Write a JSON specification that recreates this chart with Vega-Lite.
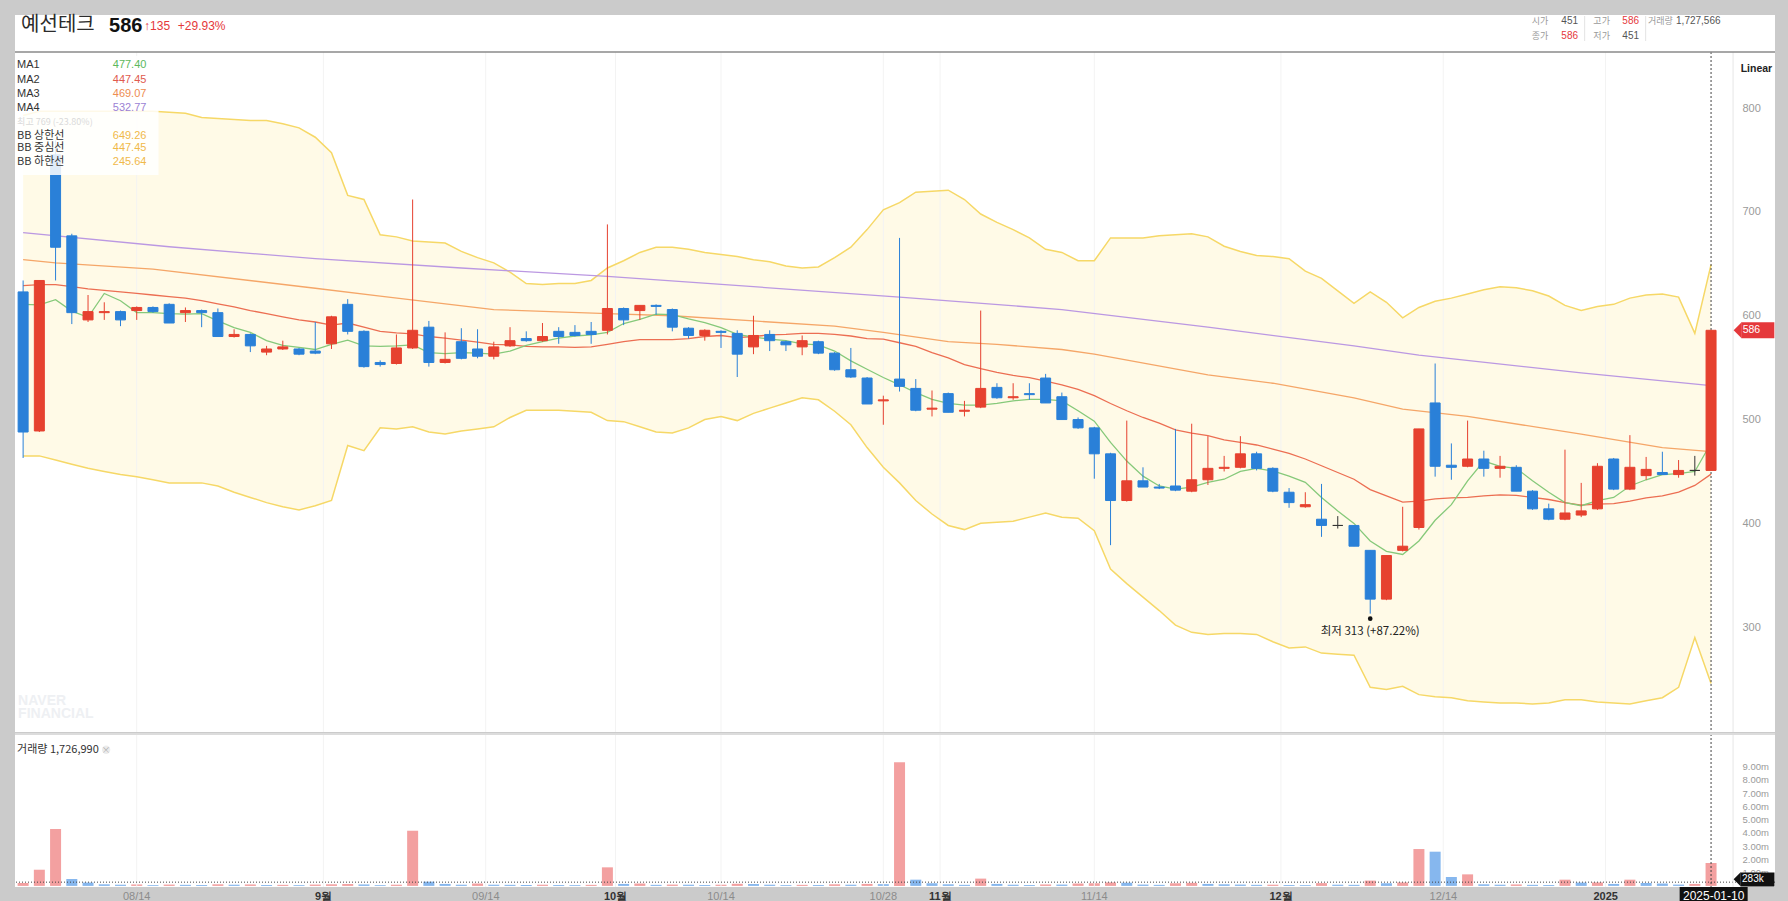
{
"$schema":"https://vega.github.io/schema/vega-lite/v6.json",
"background":"#cbcbcb",
"padding":{"left":14,"top":14,"right":14,"bottom":0},
"spacing":0,
"config":{"view":{"stroke":null,"fill":"#ffffff"},"font":"Noto Sans CJK KR","axis":{"labelFont":"Liberation Sans"}},
"datasets":{"k":[
{"d":"2024-08-05","o":623,"h":634,"l":463,"c":488,"v":220000,"vd":"u","m1":611,"m2":629,"bu":793,"bl":465,"m3":654,"m4":680},
{"d":"2024-08-06","o":489,"h":634,"l":488,"c":634,"v":1220000,"vd":"u","m1":610.5,"m2":630,"bu":797,"bl":465},
{"d":"2024-08-07","o":755,"h":769,"l":634,"c":666,"v":4290000,"vd":"u","m1":615.5,"m2":630,"bu":797,"bl":461,"m3":651},
{"d":"2024-08-08","o":677,"h":679,"l":592,"c":603,"v":520000,"vd":"d","m1":604.5,"m2":628,"bu":797,"bl":457},
{"d":"2024-08-09","o":596,"h":620,"l":594,"c":604,"v":250000,"vd":"d","m1":598.5,"m2":626,"bu":797,"bl":453},
{"d":"2024-08-12","o":603,"h":613,"l":596,"c":604,"v":120000,"vd":"d","m1":621.5,"m2":624.5,"bu":797,"bl":450},
{"d":"2024-08-13","o":604,"h":605,"l":590,"c":596,"v":90000,"vd":"d","m1":614.5,"m2":623,"bu":797,"bl":447},
{"d":"2024-08-14","o":605,"h":609,"l":596,"c":608,"v":110000,"vd":"u","m1":603,"m2":621.5,"bu":797,"bl":445},
{"d":"2024-08-16","o":608,"h":609,"l":603,"c":604,"v":60000,"vd":"d","m1":603,"m2":620,"bu":797,"bl":442,"m3":645},
{"d":"2024-08-19","o":611,"h":612,"l":593,"c":593,"v":100000,"vd":"u","m1":602,"m2":618.5,"bu":796,"bl":439,"m4":666.5},
{"d":"2024-08-20","o":603,"h":608,"l":594,"c":605,"v":80000,"vd":"d","m1":601.5,"m2":617,"bu":795,"bl":439},
{"d":"2024-08-21","o":605,"h":606,"l":589,"c":603,"v":70000,"vd":"d","m1":602,"m2":614.5,"bu":791,"bl":439},
{"d":"2024-08-22","o":603,"h":607,"l":580,"c":580,"v":120000,"vd":"u","m1":595,"m2":611.5,"bu":790,"bl":436},
{"d":"2024-08-23","o":580,"h":587,"l":579,"c":582,"v":90000,"vd":"d","m1":588.5,"m2":608.5,"bu":789,"bl":430},
{"d":"2024-08-26","o":582,"h":583,"l":565,"c":571,"v":110000,"vd":"u","m1":584,"m2":605,"bu":788,"bl":425},
{"d":"2024-08-27","o":565,"h":571,"l":562,"c":568,"v":70000,"vd":"d","m1":576,"m2":602,"bu":788,"bl":420},
{"d":"2024-08-28","o":568,"h":576,"l":567,"c":570,"v":80000,"vd":"u","m1":571.5,"m2":599,"bu":785,"bl":416},
{"d":"2024-08-29","o":568,"h":569,"l":562,"c":563,"v":60000,"vd":"d","m1":569.5,"m2":596,"bu":781,"bl":413},
{"d":"2024-08-30","o":566,"h":594,"l":563,"c":564,"v":100000,"vd":"u","m1":567.5,"m2":594,"bu":772,"bl":417,"m3":626.5,"m4":655},
{"d":"2024-09-02","o":573,"h":600,"l":568,"c":599,"v":120000,"vd":"u","m1":572.5,"m2":591,"bu":757,"bl":422},
{"d":"2024-09-03","o":611,"h":616,"l":582,"c":585,"v":140000,"vd":"u","m1":576.5,"m2":593,"bu":716,"bl":475},
{"d":"2024-09-04","o":585,"h":586,"l":550,"c":551,"v":110000,"vd":"d","m1":571,"m2":589,"bu":712,"bl":470},
{"d":"2024-09-05","o":555,"h":557,"l":551,"c":553,"v":60000,"vd":"d","m1":570.5,"m2":585,"bu":678,"bl":492,"m3":619},
{"d":"2024-09-06","o":554,"h":582,"l":553,"c":569,"v":90000,"vd":"u","m1":571,"m2":583.5,"bu":676,"bl":491},
{"d":"2024-09-09","o":569,"h":712,"l":568,"c":586,"v":4160000,"vd":"u","m1":572,"m2":582.5,"bu":672,"bl":493},
{"d":"2024-09-10","o":589,"h":595,"l":551,"c":555,"v":320000,"vd":"d","m1":564.5,"m2":580,"bu":671,"bl":488},
{"d":"2024-09-11","o":555,"h":584,"l":554,"c":558,"v":150000,"vd":"d","m1":563.5,"m2":578.5,"bu":670,"bl":486},
{"d":"2024-09-12","o":575,"h":588,"l":558,"c":559,"v":90000,"vd":"d","m1":564.5,"m2":576.5,"bu":662,"bl":489,"m4":646},
{"d":"2024-09-13","o":568,"h":587,"l":559,"c":561,"v":180000,"vd":"u","m1":564,"m2":574.5,"bu":656,"bl":491},
{"d":"2024-09-19","o":561,"h":575,"l":558,"c":570,"v":90000,"vd":"d","m1":563,"m2":572.5,"bu":651,"bl":493,"m3":606},
{"d":"2024-09-20","o":571,"h":589,"l":570,"c":576,"v":80000,"vd":"d","m1":566,"m2":572,"bu":642,"bl":502},
{"d":"2024-09-23","o":578,"h":585,"l":575,"c":576,"v":60000,"vd":"d","m1":571.5,"m2":570.5,"bu":631,"bl":509},
{"d":"2024-09-24","o":576,"h":593,"l":575,"c":580,"v":90000,"vd":"u","m1":575,"m2":570,"bu":630,"bl":509},
{"d":"2024-09-25","o":585,"h":589,"l":573,"c":580,"v":70000,"vd":"d","m1":578.5,"m2":570,"bu":631,"bl":509},
{"d":"2024-09-26","o":584,"h":591,"l":580,"c":581,"v":60000,"vd":"d","m1":580.5,"m2":569.5,"bu":631,"bl":508},
{"d":"2024-09-27","o":585,"h":594,"l":573,"c":582,"v":80000,"vd":"u","m1":581.5,"m2":570,"bu":634,"bl":507},
{"d":"2024-09-30","o":586,"h":688,"l":582,"c":607,"v":1400000,"vd":"u","m1":584,"m2":572.5,"bu":646,"bl":499,"m3":602,"m4":638},
{"d":"2024-10-02","o":607,"h":608,"l":591,"c":596,"v":150000,"vd":"d","m1":592.5,"m2":575,"bu":653,"bl":498},
{"d":"2024-10-04","o":605,"h":610,"l":596,"c":610,"v":180000,"vd":"u","m1":596.5,"m2":577,"bu":661,"bl":493},
{"d":"2024-10-07","o":610,"h":611,"l":601,"c":609,"v":80000,"vd":"d","m1":601.5,"m2":577,"bu":666,"bl":488},
{"d":"2024-10-08","o":606,"h":607,"l":585,"c":589,"v":100000,"vd":"u","m1":601,"m2":577,"bu":666,"bl":487,"m3":600},
{"d":"2024-10-10","o":588,"h":589,"l":578,"c":581,"v":90000,"vd":"d","m1":597,"m2":578,"bu":664,"bl":492},
{"d":"2024-10-11","o":581,"h":587,"l":576,"c":586,"v":70000,"vd":"d","m1":593.5,"m2":580,"bu":661,"bl":500},
{"d":"2024-10-14","o":585,"h":586,"l":569,"c":584,"v":90000,"vd":"u","m1":588.5,"m2":581,"bu":659,"bl":503},
{"d":"2024-10-15","o":583,"h":586,"l":541,"c":563,"v":160000,"vd":"u","m1":582,"m2":579,"bu":657,"bl":499},
{"d":"2024-10-16","o":570,"h":600,"l":563,"c":581,"v":140000,"vd":"d","m1":579.5,"m2":580,"bu":654,"bl":506,"m3":595,"m4":628},
{"d":"2024-10-17","o":582,"h":586,"l":566,"c":576,"v":90000,"vd":"d","m1":577.5,"m2":581.5,"bu":652,"bl":511},
{"d":"2024-10-18","o":575,"h":576,"l":566,"c":572,"v":60000,"vd":"d","m1":576,"m2":582,"bu":648,"bl":516},
{"d":"2024-10-21","o":570,"h":581,"l":562,"c":576,"v":80000,"vd":"u","m1":573,"m2":583,"bu":646,"bl":521},
{"d":"2024-10-22","o":575,"h":576,"l":563,"c":564,"v":70000,"vd":"d","m1":572,"m2":583,"bu":647,"bl":519},
{"d":"2024-10-23","o":564,"h":565,"l":547,"c":548,"v":120000,"vd":"u","m1":566,"m2":582,"bu":656,"bl":508,"m3":590},
{"d":"2024-10-24","o":548,"h":569,"l":540,"c":541,"v":90000,"vd":"d","m1":556.5,"m2":580.5,"bu":666,"bl":495},
{"d":"2024-10-25","o":540,"h":541,"l":515,"c":515,"v":150000,"vd":"u","m1":548.5,"m2":578,"bu":683,"bl":473},
{"d":"2024-10-28","o":518,"h":523,"l":495,"c":519,"v":130000,"vd":"d","m1":540.5,"m2":577.5,"bu":702,"bl":454,"m3":584},
{"d":"2024-10-29","o":539,"h":675,"l":527,"c":532,"v":9320000,"vd":"u","m1":533.5,"m2":574,"bu":709,"bl":439,"m4":618},
{"d":"2024-10-30","o":530,"h":539,"l":508,"c":509,"v":470000,"vd":"d","m1":526,"m2":570.5,"bu":719,"bl":422},
{"d":"2024-10-31","o":510,"h":528,"l":503,"c":511,"v":200000,"vd":"d","m1":519.5,"m2":564.5,"bu":720,"bl":409},
{"d":"2024-11-01","o":525,"h":526,"l":507,"c":507,"v":120000,"vd":"d","m1":515.5,"m2":559.5,"bu":721,"bl":398,"m3":575},
{"d":"2024-11-04","o":508,"h":518,"l":503,"c":509,"v":80000,"vd":"d","m1":514,"m2":553,"bu":712,"bl":394},
{"d":"2024-11-05","o":512,"h":605,"l":511,"c":530,"v":550000,"vd":"u","m1":514,"m2":549,"bu":698,"bl":400},
{"d":"2024-11-06","o":531,"h":535,"l":520,"c":521,"v":150000,"vd":"d","m1":515.5,"m2":545.5,"bu":690,"bl":401,"m3":572.5},
{"d":"2024-11-07","o":521,"h":535,"l":519,"c":522,"v":90000,"vd":"d","m1":518,"m2":542.5,"bu":683,"bl":402},
{"d":"2024-11-08","o":525,"h":535,"l":519,"c":524,"v":70000,"vd":"d","m1":519.5,"m2":540.5,"bu":675,"bl":406},
{"d":"2024-11-11","o":540,"h":544,"l":516,"c":516,"v":110000,"vd":"u","m1":519.5,"m2":537,"bu":664,"bl":410},
{"d":"2024-11-12","o":522,"h":526,"l":500,"c":500,"v":100000,"vd":"d","m1":518,"m2":533.5,"bu":661,"bl":406,"m3":567.5,"m4":606},
{"d":"2024-11-13","o":500,"h":502,"l":491,"c":492,"v":180000,"vd":"u","m1":508.5,"m2":529,"bu":653,"bl":405},
{"d":"2024-11-14","o":492,"h":493,"l":443,"c":467,"v":200000,"vd":"u","m1":498.5,"m2":523,"bu":653,"bl":393,"m3":563},
{"d":"2024-11-15","o":467,"h":468,"l":379,"c":422,"v":260000,"vd":"u","m1":478,"m2":515.5,"bu":675,"bl":356},
{"d":"2024-11-18","o":422,"h":499,"l":421,"c":441,"v":240000,"vd":"d","m1":460,"m2":508.5,"bu":675,"bl":342},
{"d":"2024-11-19","o":441,"h":454,"l":435,"c":435,"v":100000,"vd":"d","m1":445.5,"m2":502,"bu":675,"bl":329},
{"d":"2024-11-20","o":435,"h":438,"l":433,"c":434,"v":80000,"vd":"d","m1":436,"m2":496.5,"bu":677,"bl":316},
{"d":"2024-11-21","o":436,"h":491,"l":431,"c":432,"v":200000,"vd":"u","m1":433,"m2":490,"bu":678,"bl":302},
{"d":"2024-11-22","o":431,"h":496,"l":430,"c":442,"v":230000,"vd":"u","m1":435,"m2":487,"bu":679,"bl":295},
{"d":"2024-11-25","o":442,"h":484,"l":437,"c":453,"v":150000,"vd":"d","m1":439.5,"m2":484.5,"bu":676,"bl":293,"m3":543,"m4":589},
{"d":"2024-11-26","o":453,"h":465,"l":450,"c":454,"v":120000,"vd":"d","m1":442.5,"m2":480.5,"bu":667,"bl":294},
{"d":"2024-11-27","o":454,"h":484,"l":453,"c":467,"v":100000,"vd":"d","m1":450,"m2":478,"bu":662,"bl":294},
{"d":"2024-11-28","o":467,"h":469,"l":451,"c":453,"v":80000,"vd":"d","m1":453,"m2":475.5,"bu":658,"bl":293},
{"d":"2024-11-29","o":453,"h":454,"l":430,"c":431,"v":90000,"vd":"u","m1":450.5,"m2":471.5,"bu":657,"bl":286,"m3":535},
{"d":"2024-12-02","o":430,"h":434,"l":415,"c":420,"v":70000,"vd":"d","m1":445.5,"m2":467.5,"bu":655,"bl":280},
{"d":"2024-12-03","o":416,"h":430,"l":415,"c":418,"v":60000,"vd":"d","m1":439.5,"m2":462,"bu":643,"bl":281},
{"d":"2024-12-04","o":404,"h":438,"l":387,"c":398,"v":210000,"vd":"u","m1":425,"m2":455.5,"bu":636,"bl":275},
{"d":"2024-12-05","o":398,"h":407,"l":395,"c":398,"v":90000,"vd":"d","m1":412,"m2":449,"bu":624,"bl":274},
{"d":"2024-12-06","o":398,"h":398,"l":378,"c":378,"v":80000,"vd":"d","m1":400,"m2":442.5,"bu":612,"bl":273,"m3":521,"m4":571},
{"d":"2024-12-09","o":374,"h":374,"l":313,"c":327,"v":400000,"vd":"u","m1":383,"m2":432.5,"bu":623,"bl":242},
{"d":"2024-12-10","o":327,"h":369,"l":326,"c":369,"v":200000,"vd":"d","m1":373,"m2":426.5,"bu":613,"bl":240},
{"d":"2024-12-11","o":374,"h":416,"l":373,"c":378,"v":260000,"vd":"u","m1":370,"m2":420.5,"bu":598,"bl":243,"m3":510},
{"d":"2024-12-12","o":396,"h":491,"l":394,"c":491,"v":2780000,"vd":"u","m1":383,"m2":421.5,"bu":608,"bl":235,"m4":562},
{"d":"2024-12-13","o":516,"h":554,"l":445,"c":455,"v":2580000,"vd":"d","m1":403,"m2":423.5,"bu":614,"bl":233},
{"d":"2024-12-16","o":456,"h":477,"l":442,"c":454,"v":670000,"vd":"d","m1":418,"m2":424.5,"bu":617,"bl":232},
{"d":"2024-12-17","o":455,"h":499,"l":454,"c":462,"v":870000,"vd":"u","m1":441,"m2":425,"bu":621,"bl":229,"m3":503},
{"d":"2024-12-18","o":462,"h":470,"l":445,"c":453,"v":120000,"vd":"d","m1":460,"m2":426.5,"bu":625,"bl":228},
{"d":"2024-12-19","o":453,"h":465,"l":444,"c":455,"v":90000,"vd":"d","m1":455,"m2":427.5,"bu":628,"bl":227},
{"d":"2024-12-20","o":454,"h":456,"l":431,"c":431,"v":110000,"vd":"u","m1":453,"m2":427,"bu":627,"bl":227},
{"d":"2024-12-23","o":431,"h":432,"l":413,"c":414,"v":80000,"vd":"d","m1":441,"m2":425,"bu":624,"bl":226},
{"d":"2024-12-24","o":414,"h":419,"l":403,"c":404,"v":70000,"vd":"d","m1":430,"m2":423,"bu":619,"bl":227},
{"d":"2024-12-26","o":404,"h":471,"l":403,"c":410,"v":470000,"vd":"u","m1":420,"m2":420,"bu":610,"bl":230},
{"d":"2024-12-27","o":408,"h":439,"l":406,"c":412,"v":250000,"vd":"d","m1":417,"m2":417.5,"bu":605,"bl":230,"m3":486,"m4":545},
{"d":"2024-12-30","o":414,"h":458,"l":413,"c":455,"v":260000,"vd":"u","m1":422,"m2":418.5,"bu":609,"bl":228},
{"d":"2025-01-02","o":462,"h":463,"l":432,"c":433,"v":150000,"vd":"d","m1":425,"m2":419,"bu":611,"bl":227},
{"d":"2025-01-03","o":433,"h":485,"l":432,"c":454,"v":470000,"vd":"u","m1":436,"m2":421.5,"bu":617,"bl":226},
{"d":"2025-01-06","o":446,"h":464,"l":442,"c":452,"v":220000,"vd":"d","m1":442,"m2":424.5,"bu":620,"bl":229},
{"d":"2025-01-07","o":449,"h":469,"l":447,"c":447,"v":180000,"vd":"d","m1":447,"m2":426.5,"bu":621,"bl":232,"m3":473},
{"d":"2025-01-08","o":447,"h":461,"l":444,"c":451,"v":100000,"vd":"d","m1":448,"m2":430,"bu":618,"bl":242},
{"d":"2025-01-09","o":451,"h":465,"l":446,"c":451,"v":150000,"vd":"u","m1":450,"m2":436.5,"bu":583,"bl":290},
{"d":"2025-01-10","o":451,"h":586,"l":451,"c":586,"v":1727566,"vd":"u","m1":477.4,"m2":447.45,"bu":649.26,"bl":245.64,"m3":469.07,"m4":532.77}
],
"pad":[{"d":"2025-01-13"},{"d":"2025-01-14"}]
},
"vconcat":[
{
"width":1760,"height":717,
"layer":[
{"data":{"name":"k"},"mark":{"type":"area","color":"#ffeeb0","opacity":0.3},
 "encoding":{"x":{"field":"d","type":"ordinal","scale":{"type":"band","paddingInner":0,"paddingOuter":0.72,"align":0},"axis":null},
  "y":{"field":"bl","type":"quantitative","scale":{"domain":[199,889.75],"nice":false,"zero":false},
   "axis":{"orient":"right","offset":-41,"values":[300,400,500,600,700,800],"tickCount":20,"labelAlign":"left","labelPadding":8,"ticks":false,"domain":false,"grid":false,"labelColor":"#9a9a9a","labelFontSize":11,"title":null}},
  "y2":{"field":"bu"}}},
{"data":{"name":"pad"},"mark":{"type":"rule","opacity":0},
 "encoding":{"x":{"field":"d","type":"ordinal","axis":null},"y":{"datum":854.1,"type":"quantitative","axis":{"title":null}},"y2":{"datum":199}}},
{"data":{"values":[{"d":"2024-08-14"},{"d":"2024-10-14"},{"d":"2024-10-28"},{"d":"2024-11-14"}]},"mark":{"type":"rule","color":"#f3f3f3","strokeWidth":1},
 "encoding":{"x":{"field":"d","type":"ordinal","axis":null},"y":{"datum":854.1,"type":"quantitative","axis":{"title":null}},"y2":{"datum":199}}},
{"data":{"values":[{"d":"2024-09-02"},{"d":"2024-09-19"},{"d":"2024-10-02"},{"d":"2024-11-01"},{"d":"2024-12-02"},{"d":"2024-12-16"},{"d":"2025-01-02"}]},"mark":{"type":"rule","color":"#f3f3f3","strokeWidth":1},
 "encoding":{"x":{"field":"d","type":"ordinal","bandPosition":0,"axis":null},"y":{"datum":854.1,"type":"quantitative","axis":{"title":null}},"y2":{"datum":199}}},
{"data":{"name":"k"},"mark":{"type":"line","color":"#f6d867","strokeWidth":1.5},"encoding":{"x":{"field":"d","type":"ordinal","axis":null},"y":{"field":"bu","type":"quantitative","axis":{"title":null}}}},
{"data":{"name":"k"},"mark":{"type":"line","color":"#f6d867","strokeWidth":1.5},"encoding":{"x":{"field":"d","type":"ordinal","axis":null},"y":{"field":"bl","type":"quantitative","axis":{"title":null}}}},
{"data":{"name":"k"},"mark":{"type":"line","color":"#bb98e2","strokeWidth":1.3,"invalid":"filter"},"encoding":{"x":{"field":"d","type":"ordinal","axis":null},"y":{"field":"m4","type":"quantitative","axis":{"title":null}}}},
{"data":{"name":"k"},"mark":{"type":"line","color":"#f5a668","strokeWidth":1.3,"invalid":"filter"},"encoding":{"x":{"field":"d","type":"ordinal","axis":null},"y":{"field":"m3","type":"quantitative","axis":{"title":null}}}},
{"data":{"name":"k"},"mark":{"type":"line","color":"#ec6e52","strokeWidth":1.3},"encoding":{"x":{"field":"d","type":"ordinal","axis":null},"y":{"field":"m2","type":"quantitative","axis":{"title":null}}}},
{"data":{"name":"k"},"mark":{"type":"line","color":"#86c97a","strokeWidth":1.3},"encoding":{"x":{"field":"d","type":"ordinal","axis":null},"y":{"field":"m1","type":"quantitative","axis":{"title":null}}}},
{"data":{"values":[{}]},"mark":{"type":"rule","color":"#444444","strokeWidth":1,"strokeDash":[2,2]},
 "encoding":{"x":{"datum":"2025-01-10","type":"ordinal","axis":null},"y":{"datum":854.1,"type":"quantitative","axis":{"title":null}},"y2":{"datum":199}}},
{"data":{"values":[{}]},"mark":{"type":"rule","color":"#e6e6e6","strokeWidth":1,"xOffset":22},
 "encoding":{"x":{"datum":"2025-01-10","type":"ordinal","axis":null},"y":{"datum":854.1,"type":"quantitative","axis":{"title":null}},"y2":{"datum":199}}},
{"data":{"name":"k"},"mark":{"type":"rule","strokeWidth":1},
 "encoding":{"x":{"field":"d","type":"ordinal","axis":null},"y":{"field":"l","type":"quantitative","axis":{"title":null}},"y2":{"field":"h"},
  "color":{"condition":[{"test":"datum.c > datum.o","value":"#e6412f"},{"test":"datum.c < datum.o","value":"#2a80d8"}],"value":"#333333"}}},
{"data":{"name":"k"},"mark":{"type":"bar","size":10,"strokeWidth":1},
 "encoding":{"x":{"field":"d","type":"ordinal","axis":null},"y":{"field":"o","type":"quantitative","axis":{"title":null}},"y2":{"field":"c"},
  "color":{"condition":[{"test":"datum.c > datum.o","value":"#e6412f"},{"test":"datum.c < datum.o","value":"#2a80d8"}],"value":"#333333"},
  "stroke":{"condition":[{"test":"datum.c > datum.o","value":"#e6412f"},{"test":"datum.c < datum.o","value":"#2a80d8"}],"value":"#333333"}}},
{"data":{"values":[{}]},"mark":{"type":"bar","size":141,"color":"#ffffff","opacity":0.85},
 "encoding":{"x":{"datum":"2024-08-09","type":"ordinal","axis":null},"y":{"datum":850.3,"type":"quantitative","axis":{"title":null}},"y2":{"datum":735.6}}},
{"data":{"values":[{}]},"mark":{"type":"rule","color":"#8a8a8a","strokeWidth":1.5},"encoding":{"y":{"datum":854.1,"type":"quantitative","axis":{"title":null}}}},
{"data":{"values":[{}]},"mark":{"type":"text","text":"예선테크","align":"left","baseline":"middle","fontSize":20,"color":"#2b2b2b","xOffset":-2},
 "encoding":{"x":{"datum":"2024-08-05","type":"ordinal","axis":null},"y":{"datum":880.4,"type":"quantitative","axis":{"title":null}}}},
{"data":{"values":[{}]},"mark":{"type":"text","text":"586","align":"left","baseline":"middle","fontSize":20,"fontWeight":"bold","font":"Liberation Sans","color":"#111111","xOffset":86},
 "encoding":{"x":{"datum":"2024-08-05","type":"ordinal","axis":null},"y":{"datum":879.6,"type":"quantitative","axis":{"title":null}}}},
{"data":{"values":[{}]},"mark":{"type":"text","text":"↑135","align":"left","baseline":"middle","fontSize":12,"font":"Liberation Sans","color":"#e5383b","xOffset":121},
 "encoding":{"x":{"datum":"2024-08-05","type":"ordinal","axis":null},"y":{"datum":879.2,"type":"quantitative","axis":{"title":null}}}},
{"data":{"values":[{}]},"mark":{"type":"text","text":"+29.93%","align":"left","baseline":"middle","fontSize":12,"font":"Liberation Sans","color":"#e5383b","xOffset":154.7},
 "encoding":{"x":{"datum":"2024-08-05","type":"ordinal","axis":null},"y":{"datum":879.2,"type":"quantitative","axis":{"title":null}}}},
{"data":{"values":[{}]},"mark":{"type":"text","text":"시가","align":"left","baseline":"middle","fontSize":9,"color":"#9a9a9a","xOffset":-179.4},
 "encoding":{"x":{"datum":"2025-01-10","type":"ordinal","axis":null},"y":{"datum":883.9,"type":"quantitative","axis":{"title":null}}}},
{"data":{"values":[{}]},"mark":{"type":"text","text":"451","align":"left","baseline":"middle","fontSize":10,"font":"Liberation Sans","color":"#555555","xOffset":-149.7},
 "encoding":{"x":{"datum":"2025-01-10","type":"ordinal","axis":null},"y":{"datum":883.9,"type":"quantitative","axis":{"title":null}}}},
{"data":{"values":[{}]},"mark":{"type":"text","text":"고가","align":"left","baseline":"middle","fontSize":9,"color":"#9a9a9a","xOffset":-117.7},
 "encoding":{"x":{"datum":"2025-01-10","type":"ordinal","axis":null},"y":{"datum":883.9,"type":"quantitative","axis":{"title":null}}}},
{"data":{"values":[{}]},"mark":{"type":"text","text":"586","align":"left","baseline":"middle","fontSize":10,"font":"Liberation Sans","color":"#e5383b","xOffset":-88.7},
 "encoding":{"x":{"datum":"2025-01-10","type":"ordinal","axis":null},"y":{"datum":883.9,"type":"quantitative","axis":{"title":null}}}},
{"data":{"values":[{}]},"mark":{"type":"text","text":"거래량","align":"left","baseline":"middle","fontSize":9,"color":"#9a9a9a","xOffset":-63},
 "encoding":{"x":{"datum":"2025-01-10","type":"ordinal","axis":null},"y":{"datum":883.9,"type":"quantitative","axis":{"title":null}}}},
{"data":{"values":[{}]},"mark":{"type":"text","text":"1,727,566","align":"left","baseline":"middle","fontSize":10,"font":"Liberation Sans","color":"#555555","xOffset":-35},
 "encoding":{"x":{"datum":"2025-01-10","type":"ordinal","axis":null},"y":{"datum":883.9,"type":"quantitative","axis":{"title":null}}}},
{"data":{"values":[{}]},"mark":{"type":"text","text":"종가","align":"left","baseline":"middle","fontSize":9,"color":"#9a9a9a","xOffset":-179.4},
 "encoding":{"x":{"datum":"2025-01-10","type":"ordinal","axis":null},"y":{"datum":869.7,"type":"quantitative","axis":{"title":null}}}},
{"data":{"values":[{}]},"mark":{"type":"text","text":"586","align":"left","baseline":"middle","fontSize":10,"font":"Liberation Sans","color":"#e5383b","xOffset":-149.7},
 "encoding":{"x":{"datum":"2025-01-10","type":"ordinal","axis":null},"y":{"datum":869.7,"type":"quantitative","axis":{"title":null}}}},
{"data":{"values":[{}]},"mark":{"type":"text","text":"저가","align":"left","baseline":"middle","fontSize":9,"color":"#9a9a9a","xOffset":-117.7},
 "encoding":{"x":{"datum":"2025-01-10","type":"ordinal","axis":null},"y":{"datum":869.7,"type":"quantitative","axis":{"title":null}}}},
{"data":{"values":[{}]},"mark":{"type":"text","text":"451","align":"left","baseline":"middle","fontSize":10,"font":"Liberation Sans","color":"#555555","xOffset":-88.7},
 "encoding":{"x":{"datum":"2025-01-10","type":"ordinal","axis":null},"y":{"datum":869.7,"type":"quantitative","axis":{"title":null}}}},
{"data":{"values":[{}]},"mark":{"type":"rule","color":"#e3e3e3","xOffset":-126.4},
 "encoding":{"x":{"datum":"2025-01-10","type":"ordinal","axis":null},"y":{"datum":888.8,"type":"quantitative","axis":{"title":null}},"y2":{"datum":864.7}}},
{"data":{"values":[{}]},"mark":{"type":"rule","color":"#e3e3e3","xOffset":-65.4},
 "encoding":{"x":{"datum":"2025-01-10","type":"ordinal","axis":null},"y":{"datum":888.8,"type":"quantitative","axis":{"title":null}},"y2":{"datum":864.7}}},
{"data":{"values":[{}]},"mark":{"type":"text","text":"Linear","align":"left","baseline":"middle","fontSize":10.5,"font":"Liberation Sans","fontWeight":"bold","color":"#222222","xOffset":29.6},
 "encoding":{"x":{"datum":"2025-01-10","type":"ordinal","axis":null},"y":{"datum":837.6,"type":"quantitative","axis":{"title":null}}}},
{"data":{"values":[{}]},"mark":{"type":"text","text":"MA1","align":"left","baseline":"middle","fontSize":11,"font":"Liberation Sans","color":"#333333","xOffset":-6},
 "encoding":{"x":{"datum":"2024-08-05","type":"ordinal","axis":null},"y":{"datum":841.6,"type":"quantitative","axis":{"title":null}}}},
{"data":{"values":[{}]},"mark":{"type":"text","text":"MA2","align":"left","baseline":"middle","fontSize":11,"font":"Liberation Sans","color":"#333333","xOffset":-6},
 "encoding":{"x":{"datum":"2024-08-05","type":"ordinal","axis":null},"y":{"datum":827.4,"type":"quantitative","axis":{"title":null}}}},
{"data":{"values":[{}]},"mark":{"type":"text","text":"MA3","align":"left","baseline":"middle","fontSize":11,"font":"Liberation Sans","color":"#333333","xOffset":-6},
 "encoding":{"x":{"datum":"2024-08-05","type":"ordinal","axis":null},"y":{"datum":813.9,"type":"quantitative","axis":{"title":null}}}},
{"data":{"values":[{}]},"mark":{"type":"text","text":"MA4","align":"left","baseline":"middle","fontSize":11,"font":"Liberation Sans","color":"#333333","xOffset":-6},
 "encoding":{"x":{"datum":"2024-08-05","type":"ordinal","axis":null},"y":{"datum":800.4,"type":"quantitative","axis":{"title":null}}}},
{"data":{"values":[{}]},"mark":{"type":"text","text":"최고 769 (-23.80%)","align":"left","baseline":"middle","fontSize":9,"color":"#dadada","xOffset":-6},
 "encoding":{"x":{"datum":"2024-08-05","type":"ordinal","axis":null},"y":{"datum":787,"type":"quantitative","axis":{"title":null}}}},
{"data":{"values":[{}]},"mark":{"type":"text","text":"BB 상한선","align":"left","baseline":"middle","fontSize":11,"color":"#333333","xOffset":-6},
 "encoding":{"x":{"datum":"2024-08-05","type":"ordinal","axis":null},"y":{"datum":773.2,"type":"quantitative","axis":{"title":null}}}},
{"data":{"values":[{}]},"mark":{"type":"text","text":"BB 중심선","align":"left","baseline":"middle","fontSize":11,"color":"#333333","xOffset":-6},
 "encoding":{"x":{"datum":"2024-08-05","type":"ordinal","axis":null},"y":{"datum":761.9,"type":"quantitative","axis":{"title":null}}}},
{"data":{"values":[{}]},"mark":{"type":"text","text":"BB 하한선","align":"left","baseline":"middle","fontSize":11,"color":"#333333","xOffset":-6},
 "encoding":{"x":{"datum":"2024-08-05","type":"ordinal","axis":null},"y":{"datum":748.1,"type":"quantitative","axis":{"title":null}}}},
{"data":{"values":[{}]},"mark":{"type":"text","text":"477.40","align":"right","baseline":"middle","fontSize":11,"font":"Liberation Sans","color":"#5cb85c","xOffset":123.3},
 "encoding":{"x":{"datum":"2024-08-05","type":"ordinal","axis":null},"y":{"datum":841.6,"type":"quantitative","axis":{"title":null}}}},
{"data":{"values":[{}]},"mark":{"type":"text","text":"447.45","align":"right","baseline":"middle","fontSize":11,"font":"Liberation Sans","color":"#e05a4e","xOffset":123.3},
 "encoding":{"x":{"datum":"2024-08-05","type":"ordinal","axis":null},"y":{"datum":827.4,"type":"quantitative","axis":{"title":null}}}},
{"data":{"values":[{}]},"mark":{"type":"text","text":"469.07","align":"right","baseline":"middle","fontSize":11,"font":"Liberation Sans","color":"#ee8c50","xOffset":123.3},
 "encoding":{"x":{"datum":"2024-08-05","type":"ordinal","axis":null},"y":{"datum":813.9,"type":"quantitative","axis":{"title":null}}}},
{"data":{"values":[{}]},"mark":{"type":"text","text":"532.77","align":"right","baseline":"middle","fontSize":11,"font":"Liberation Sans","color":"#9b7fd4","xOffset":123.3},
 "encoding":{"x":{"datum":"2024-08-05","type":"ordinal","axis":null},"y":{"datum":800.4,"type":"quantitative","axis":{"title":null}}}},
{"data":{"values":[{}]},"mark":{"type":"text","text":"649.26","align":"right","baseline":"middle","fontSize":11,"font":"Liberation Sans","color":"#f0b94a","xOffset":123.3},
 "encoding":{"x":{"datum":"2024-08-05","type":"ordinal","axis":null},"y":{"datum":773.2,"type":"quantitative","axis":{"title":null}}}},
{"data":{"values":[{}]},"mark":{"type":"text","text":"447.45","align":"right","baseline":"middle","fontSize":11,"font":"Liberation Sans","color":"#f0b94a","xOffset":123.3},
 "encoding":{"x":{"datum":"2024-08-05","type":"ordinal","axis":null},"y":{"datum":761.9,"type":"quantitative","axis":{"title":null}}}},
{"data":{"values":[{}]},"mark":{"type":"text","text":"245.64","align":"right","baseline":"middle","fontSize":11,"font":"Liberation Sans","color":"#f0b94a","xOffset":123.3},
 "encoding":{"x":{"datum":"2024-08-05","type":"ordinal","axis":null},"y":{"datum":748.1,"type":"quantitative","axis":{"title":null}}}},
{"data":{"values":[{}]},"mark":{"type":"point","shape":"circle","filled":true,"size":22,"color":"#111111","opacity":1,"yOffset":5},
 "encoding":{"x":{"datum":"2024-12-09","type":"ordinal","axis":null},"y":{"datum":313,"type":"quantitative","axis":{"title":null}}}},
{"data":{"values":[{}]},"mark":{"type":"text","text":"최저 313 (+87.22%)","align":"center","baseline":"middle","fontSize":11.5,"color":"#222222","yOffset":18},
 "encoding":{"x":{"datum":"2024-12-09","type":"ordinal","axis":null},"y":{"datum":313,"type":"quantitative","axis":{"title":null}}}},
{"data":{"values":[{}]},"mark":{"type":"text","text":"NAVER","align":"left","baseline":"middle","fontSize":14,"font":"Liberation Sans","fontWeight":"bold","color":"#eef0f3","xOffset":-5},
 "encoding":{"x":{"datum":"2024-08-05","type":"ordinal","axis":null},"y":{"datum":228.9,"type":"quantitative","axis":{"title":null}}}},
{"data":{"values":[{}]},"mark":{"type":"text","text":"FINANCIAL","align":"left","baseline":"middle","fontSize":14,"font":"Liberation Sans","fontWeight":"bold","color":"#eef0f3","xOffset":-5},
 "encoding":{"x":{"datum":"2024-08-05","type":"ordinal","axis":null},"y":{"datum":216.3,"type":"quantitative","axis":{"title":null}}}},
{"data":{"values":[{}]},"mark":{"type":"point","shape":"M0,-1L-1,0L0,1Z","filled":true,"size":256,"color":"#e5383b","opacity":1,"xOffset":30.6},
 "encoding":{"x":{"datum":"2025-01-10","type":"ordinal","axis":null},"y":{"datum":586,"type":"quantitative","axis":{"title":null}}}},
{"data":{"values":[{}]},"mark":{"type":"bar","size":33,"color":"#e5383b","xOffset":46.8},
 "encoding":{"x":{"datum":"2025-01-10","type":"ordinal","axis":null},"y":{"datum":578.3,"type":"quantitative","axis":{"title":null}},"y2":{"datum":593.7}}},
{"data":{"values":[{}]},"mark":{"type":"text","text":"586","align":"left","baseline":"middle","fontSize":10.5,"font":"Liberation Sans","color":"#ffffff","xOffset":31.6},
 "encoding":{"x":{"datum":"2025-01-10","type":"ordinal","axis":null},"y":{"datum":586,"type":"quantitative","axis":{"title":null}}}}
]
},
{
"width":1760,"height":153,
"layer":[
{"data":{"name":"k"},"mark":{"type":"bar","size":11},
 "encoding":{"x":{"field":"d","type":"ordinal","scale":{"type":"band","paddingInner":0,"paddingOuter":0.72,"align":0},
   "axis":{"title":null,"orient":"bottom","domain":false,"ticks":false,"grid":false,"labelPadding":3,"labelFontSize":11,"labelOverlap":false,"labelBound":false,"labelFlush":false,"labelAngle":0,
    "labelExpr":"datum.value=='2024-08-14'?'08/14':datum.value=='2024-09-02'?'9월':datum.value=='2024-09-19'?'09/14':datum.value=='2024-10-02'?'10월':datum.value=='2024-10-14'?'10/14':datum.value=='2024-10-28'?'10/28':datum.value=='2024-11-01'?'11월':datum.value=='2024-11-14'?'11/14':datum.value=='2024-12-02'?'12월':datum.value=='2024-12-16'?'12/14':datum.value=='2025-01-02'?'2025':''",
    "labelColor":{"condition":{"test":"indexof(['2024-09-02','2024-10-02','2024-11-01','2024-12-02','2025-01-02'], datum.value) >= 0","value":"#333333"},"value":"#8c8c8c"},
    "labelFontWeight":{"condition":{"test":"indexof(['2024-09-02','2024-10-02','2024-11-01','2024-12-02','2025-01-02'], datum.value) >= 0","value":"bold"},"value":"normal"},
    "labelOffset":{"condition":{"test":"indexof(['2024-09-02','2024-09-19','2024-10-02','2024-11-01','2024-12-02','2024-12-16','2025-01-02'], datum.value) >= 0","value":-8},"value":0}}},
  "y":{"field":"v","type":"quantitative","scale":{"domain":[-83000,11455000],"nice":false,"zero":false},
   "axis":{"orient":"right","offset":-41,"values":[1000000,2000000,3000000,4000000,5000000,6000000,7000000,8000000,9000000],"tickCount":20,"labelExpr":"format(datum.value/1000000,'.2f')+'m'","labelAlign":"left","labelBaseline":"middle","labelPadding":8,"labelOverlap":false,"labelBound":false,"ticks":false,"domain":false,"grid":false,"labelColor":"#9a9a9a","labelFontSize":9.5,"title":null}},
  "y2":{"datum":0},
  "color":{"condition":{"test":"datum.vd == 'u'","value":"#f3a0a0"},"value":"#86b7ee"}}},
{"data":{"name":"pad"},"mark":{"type":"rule","opacity":0},"encoding":{"x":{"field":"d","type":"ordinal","axis":{"title":null}}}},
{"data":{"values":[{"d":"2024-08-14"},{"d":"2024-10-14"},{"d":"2024-10-28"},{"d":"2024-11-14"}]},"mark":{"type":"rule","color":"#f3f3f3","strokeWidth":1},
 "encoding":{"x":{"field":"d","type":"ordinal","axis":{"title":null}}}},
{"data":{"values":[{"d":"2024-09-02"},{"d":"2024-09-19"},{"d":"2024-10-02"},{"d":"2024-11-01"},{"d":"2024-12-02"},{"d":"2024-12-16"},{"d":"2025-01-02"}]},"mark":{"type":"rule","color":"#f3f3f3","strokeWidth":1},
 "encoding":{"x":{"field":"d","type":"ordinal","bandPosition":0,"axis":{"title":null}}}},
{"data":{"values":[{}]},"mark":{"type":"rule","color":"#444444","strokeWidth":1,"strokeDash":[1,2]},"encoding":{"y":{"datum":283000,"type":"quantitative","axis":{"title":null}}}},
{"data":{"values":[{}]},"mark":{"type":"rule","color":"#444444","strokeWidth":1,"strokeDash":[2,2]},"encoding":{"x":{"datum":"2025-01-10","type":"ordinal","axis":{"title":null}}}},
{"data":{"values":[{}]},"mark":{"type":"rule","color":"#e6e6e6","strokeWidth":1,"xOffset":22},"encoding":{"x":{"datum":"2025-01-10","type":"ordinal","axis":{"title":null}}}},
{"data":{"values":[{}]},"mark":{"type":"rule","color":"#dcdcdc","strokeWidth":2},"encoding":{"y":{"datum":11455000,"type":"quantitative","axis":{"title":null}}}},
{"data":{"values":[{}]},"mark":{"type":"text","text":"거래량 1,726,990","align":"left","baseline":"middle","fontSize":11,"color":"#333333","xOffset":-6},
 "encoding":{"x":{"datum":"2024-08-05","type":"ordinal","axis":{"title":null}},"y":{"datum":10271000,"type":"quantitative","axis":{"title":null}}}},
{"data":{"values":[{}]},"mark":{"type":"point","shape":"circle","filled":true,"size":70,"color":"#ececec","opacity":1,"xOffset":83},
 "encoding":{"x":{"datum":"2024-08-05","type":"ordinal","axis":{"title":null}},"y":{"datum":10271000,"type":"quantitative","axis":{"title":null}}}},
{"data":{"values":[{}]},"mark":{"type":"text","text":"×","align":"center","baseline":"middle","fontSize":9,"color":"#b0b0b0","xOffset":83},
 "encoding":{"x":{"datum":"2024-08-05","type":"ordinal","axis":{"title":null}},"y":{"datum":10271000,"type":"quantitative","axis":{"title":null}}}},
{"data":{"values":[{}]},"mark":{"type":"point","shape":"M0,-1L-1,0L0,1Z","filled":true,"size":196,"color":"#111111","opacity":1,"xOffset":29.6,"yOffset":-3},
 "encoding":{"x":{"datum":"2025-01-10","type":"ordinal","axis":{"title":null}},"y":{"datum":283000,"type":"quantitative","axis":{"title":null}}}},
{"data":{"values":[{}]},"mark":{"type":"bar","size":34,"color":"#111111","xOffset":46.4},
 "encoding":{"x":{"datum":"2025-01-10","type":"ordinal","axis":{"title":null}},"y":{"datum":-40000,"type":"quantitative","axis":{"title":null}},"y2":{"datum":1010000}}},
{"data":{"values":[{}]},"mark":{"type":"text","text":"283k","align":"left","baseline":"middle","fontSize":10,"font":"Liberation Sans","color":"#ffffff","xOffset":31},
 "encoding":{"x":{"datum":"2025-01-10","type":"ordinal","axis":{"title":null}},"y":{"datum":500000,"type":"quantitative","axis":{"title":null}}}},
{"data":{"values":[{}]},"mark":{"type":"bar","size":68,"color":"#111111","xOffset":2.6},
 "encoding":{"x":{"datum":"2025-01-10","type":"ordinal","axis":{"title":null}},"y":{"datum":-83000,"type":"quantitative","axis":{"title":null}},"y2":{"datum":-1365000}}},
{"data":{"values":[{}]},"mark":{"type":"text","text":"2025-01-10","align":"center","baseline":"middle","fontSize":12,"font":"Liberation Sans","color":"#ffffff","xOffset":2.6},
 "encoding":{"x":{"datum":"2025-01-10","type":"ordinal","axis":{"title":null}},"y":{"datum":-724000,"type":"quantitative","axis":{"title":null}}}}
]
}
]
}
